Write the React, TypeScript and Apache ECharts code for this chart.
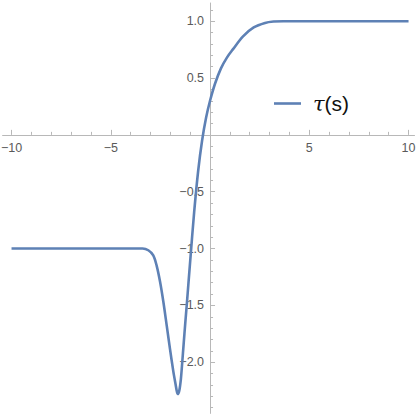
import React, { useEffect, useRef } from "react";
import * as echarts from "echarts";

const sValues = [-10, -4, -3.4, -3.11, -2.86, -2.69, -2.52, -2.35, -2.18, -2.02, -1.85, -1.73, -1.68, -1.63, -1.55, -1.47, -1.4, -1.33, -1.25, -1.17, -1.0, -0.8, -0.6, -0.4, -0.2, 0, 0.25, 0.55, 0.85, 1.15, 1.65, 2.2, 2.77, 3.2, 3.7, 4.5, 10];
const tauValues = [-1, -1, -1.0, -1.015, -1.06, -1.15, -1.29, -1.47, -1.68, -1.88, -2.08, -2.2, -2.25, -2.28, -2.25, -2.15, -2.0, -1.84, -1.66, -1.49, -1.11, -0.68, -0.32, -0.05, 0.15, 0.3, 0.45, 0.585, 0.68, 0.752, 0.865, 0.945, 0.985, 0.997, 1.0, 1.0, 1.0];

const xMajorTicks = [-10, -5, 5, 10];
const xMinorTicks = [-9, -8, -7, -6, -4, -3, -2, -1, 1, 2, 3, 4, 6, 7, 8, 9];
const yMajorTicks = [-2, -1.5, -1, -0.5, 0.5, 1];
const yMinorTicks = [-2.4, -2.3, -2.2, -2.1, -1.9, -1.8, -1.7, -1.6, -1.4, -1.3, -1.2, -1.1, -0.9, -0.8, -0.7, -0.6, -0.4, -0.3, -0.2, -0.1, 0.1, 0.2, 0.3, 0.4, 0.6, 0.7, 0.8, 0.9, 1.1];

const X_MIN = -10.45;
const X_MAX = 10.3;
const Y_MIN = -2.45;
const Y_MAX = 1.16;

const W = 417;
const H = 417;
const G_LEFT = 2.6;
const G_RIGHT = 2.5;
const G_TOP = 3;
const G_BOTTOM = 3.6;

const AXIS_COLOR = "#b8b8b8";
const LABEL_COLOR = "#5a5a5a";
const LINE_COLOR = "#5e81b5";
const FONT = "'Liberation Sans', Arial, sans-serif";

const fmt = (v: number, digits: number) => {
  const s = digits > 0 ? v.toFixed(digits) : String(Math.round(v));
  return s.replace("-", "\u2212");
};

const hiddenAxis = (gridIndex: number, min: number, max: number) => ({
  type: "value",
  gridIndex,
  min,
  max,
  show: false,
  axisLine: { show: false, onZero: false },
  axisTick: { show: false },
  axisLabel: { show: false },
  splitLine: { show: false },
});

export default function App() {
  const ref = useRef<HTMLDivElement>(null);
  useEffect(() => {
    document.body.style.margin = "0";
    const chart = echarts.init(ref.current!, null, { renderer: "svg" });
    const data = sValues.map((s, i) => [s, tauValues[i]]);

    const plotW = W - G_LEFT - G_RIGHT;
    const plotH = H - G_TOP - G_BOTTOM;
    const zeroX = G_LEFT + ((0 - X_MIN) / (X_MAX - X_MIN)) * plotW;
    const zeroY = G_TOP + ((Y_MAX - 0) / (Y_MAX - Y_MIN)) * plotH;

    const labelStyle = {
      color: LABEL_COLOR,
      fontSize: 12.5,
      fontFamily: FONT,
    };

    chart.setOption({
      animation: false,
      backgroundColor: "#ffffff",
      grid: [
        { left: G_LEFT, right: G_RIGHT, top: G_TOP, bottom: G_BOTTOM, outerBoundsMode: "none", containLabel: false },
        { left: G_LEFT, right: G_RIGHT, top: G_TOP, height: zeroY - G_TOP, outerBoundsMode: "none", containLabel: false },
        { left: zeroX, width: W - G_RIGHT - zeroX, top: G_TOP, bottom: G_BOTTOM, outerBoundsMode: "none", containLabel: false },
      ],
      legend: {
        left: 274,
        top: 93,
        padding: 0,
        itemWidth: 27,
        itemHeight: 2.6,
        data: [{ name: "tau", icon: "rect" }],
        formatter: () => "{i|\u03c4}(s)",
        textStyle: {
          fontSize: 21,
          color: "#111",
          fontFamily: FONT,
          padding: [0, 0, 0, 7],
          rich: {
            i: { fontSize: 21, fontStyle: "italic", color: "#111", fontFamily: "'DejaVu Serif', serif" },
          },
        },
      },
      xAxis: [
        hiddenAxis(0, X_MIN, X_MAX),
        {
          type: "value",
          gridIndex: 1,
          min: X_MIN,
          max: X_MAX,
          position: "bottom",
          axisLine: { show: true, onZero: false, lineStyle: { color: AXIS_COLOR, width: 1 } },
          axisTick: { show: true, inside: true, length: 5, customValues: xMajorTicks, lineStyle: { color: AXIS_COLOR } },
          axisLabel: { show: true, customValues: xMajorTicks, margin: 7, ...labelStyle, formatter: (v: number) => fmt(v, 0) },
          splitLine: { show: false },
        },
        {
          type: "value",
          gridIndex: 1,
          min: X_MIN,
          max: X_MAX,
          position: "bottom",
          axisLine: { show: false, onZero: false },
          axisTick: { show: true, inside: true, length: 3, customValues: xMinorTicks, lineStyle: { color: AXIS_COLOR } },
          axisLabel: { show: false },
          splitLine: { show: false },
        },
        hiddenAxis(2, 0, 1),
      ],
      yAxis: [
        hiddenAxis(0, Y_MIN, Y_MAX),
        hiddenAxis(1, 0, 1),
        {
          type: "value",
          gridIndex: 2,
          min: Y_MIN,
          max: Y_MAX,
          position: "left",
          axisLine: { show: true, onZero: false, lineStyle: { color: AXIS_COLOR, width: 1 } },
          axisTick: { show: true, inside: true, length: 5, customValues: yMajorTicks, lineStyle: { color: AXIS_COLOR } },
          axisLabel: { show: true, customValues: yMajorTicks, margin: 6, ...labelStyle, formatter: (v: number) => fmt(v, 1) },
          splitLine: { show: false },
        },
        {
          type: "value",
          gridIndex: 2,
          min: Y_MIN,
          max: Y_MAX,
          position: "left",
          axisLine: { show: false, onZero: false },
          axisTick: { show: true, inside: true, length: 3, customValues: yMinorTicks, lineStyle: { color: AXIS_COLOR } },
          axisLabel: { show: false },
          splitLine: { show: false },
        },
      ],
      series: [
        {
          name: "tau",
          type: "line",
          xAxisIndex: 0,
          yAxisIndex: 0,
          data,
          showSymbol: false,
          symbol: "none",
          smooth: 0.3,
          lineStyle: { color: LINE_COLOR, width: 2.6 },
          itemStyle: { color: LINE_COLOR },
          z: 5,
        },
      ],
    });
    return () => chart.dispose();
  }, []);
  return (
    <div
      ref={ref}
      style={{ position: "fixed", left: 0, top: 0, width: W, height: H }}
    />
  );
}
